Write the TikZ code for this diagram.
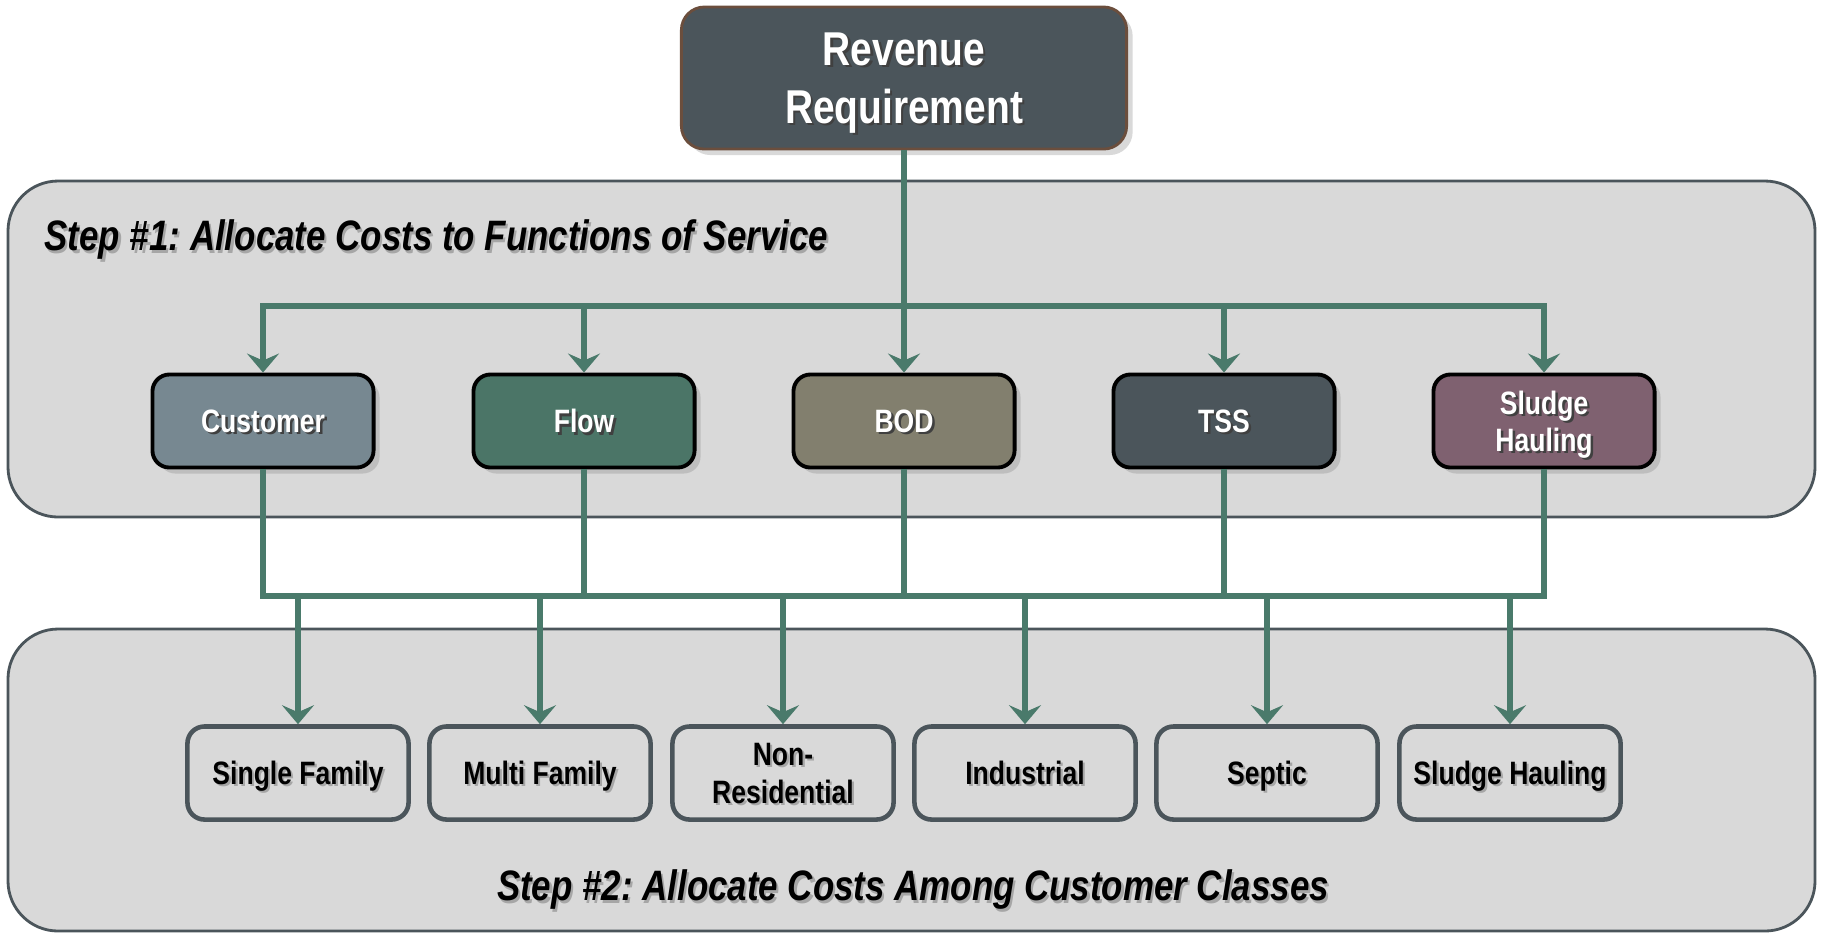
\documentclass[tikz,border=0pt]{standalone}
\usepackage{fontspec}
\setmainfont{Liberation Sans}[FakeStretch=0.82]
\usetikzlibrary{arrows.meta,shadows,positioning}
\frenchspacing

\definecolor{slate}{HTML}{4B555B}
\definecolor{panelgray}{HTML}{D9D9D9}
\definecolor{linkgreen}{HTML}{4A7A6B}
\definecolor{revline}{HTML}{6B4E3D}
\definecolor{custfill}{HTML}{778891}
\definecolor{flowfill}{HTML}{4B7567}
\definecolor{bodfill}{HTML}{827F6E}
\definecolor{tssfill}{HTML}{4B555B}
\definecolor{sludfill}{HTML}{7F6170}

% texte avec ombre portee
\newcommand{\shw}[1]{\makebox[0pt][l]{\hspace{0.7pt}\raisebox{-0.7pt}{\textcolor{black!75}{#1}}}#1}
\newcommand{\shk}[1]{\makebox[0pt][l]{\hspace{0.6pt}\raisebox{-0.6pt}{\textcolor{black!35}{#1}}}#1}

\tikzset{
  >={Stealth[length=0.19cm, width=0.32cm, inset=0.07cm]},
  panel/.style={draw=slate, line width=0.8pt, fill=panelgray, rounded corners=0.5cm},
  link/.style={draw=linkgreen, line width=1.7pt},
  boxshadow/.style={drop shadow={shadow xshift=0.06cm, shadow yshift=-0.06cm, opacity=0.3}},
  revbox/.style={boxshadow, draw=revline, line width=0.8pt, fill=slate, rounded corners=0.23cm,
    minimum width=4.45cm, minimum height=1.42cm, text=white, align=center, text depth=-6pt,
    font=\bfseries\fontsize{13.5}{16.5}\selectfont},
  funcbox/.style={boxshadow, draw=black, line width=1.1pt, rounded corners=0.17cm,
    minimum width=2.21cm, minimum height=0.93cm, text=white, align=center, text depth=-3.8pt,
    font=\bfseries\fontsize{9.2}{10.6}\selectfont},
  classbox/.style={draw=slate, line width=1.3pt, rounded corners=0.17cm,
    minimum width=2.21cm, minimum height=0.93cm, align=center, text depth=-3.8pt,
    font=\bfseries\fontsize{9.2}{10.8}\selectfont},
  steptext/.style={inner sep=0pt, font=\bfseries\itshape\fontsize{12.1}{14}\selectfont}
}

\begin{document}
\begin{tikzpicture}[x=0.01cm, y=-0.01cm]
  \useasboundingbox (0,0) rectangle (1822,932);

  % Les deux bandeaux
  \draw[panel] (8,181) rectangle (1815,517);
  \draw[panel] (8,629) rectangle (1815,931);

  \node[steptext, anchor=west] (step1) at (44,241) {\shk{Step \#1: Allocate Costs to Functions of Service}};
  \node[steptext] (step2) at (913,891) {\shk{Step \#2: Allocate Costs Among Customer Classes}};

  % Boite du haut
  \node[revbox] (rev) at (904,78) {\shw{Revenue}\\\shw{Requirement}};

  % Fonctions de service
  \foreach \x/\n/\c/\t in {263/cust/custfill/\shw{Customer}, 584/flow/flowfill/\shw{Flow},
      904/bod/bodfill/\shw{BOD}, 1224/tss/tssfill/\shw{TSS},
      1544/slud/sludfill/{\shw{Sludge}\\\shw{Hauling}}} {
    \node[funcbox, fill=\c] (\n) at (\x,421) {\t};
  }

  % Classes de clients
  \foreach \x/\n/\t in {298/sf/\shk{Single Family}, 540/mf/\shk{Multi Family},
      783/nr/{\shk{Non-}\\\shk{Residential}}, 1025/ind/\shk{Industrial},
      1267/sep/\shk{Septic}, 1510/sh/\shk{Sludge Hauling}} {
    \node[classbox] (\n) at (\x,773) {\t};
  }

  \coordinate (bus1) at (904,306);
  \coordinate (bus2) at (904,596);

  % Liaisons du haut
  \draw[link,->] (rev.south) -- (bod.north);
  \draw[link,<->] (cust.north) |- (slud.north |- bus1) -- (slud.north);
  \foreach \n in {flow,tss} {
    \draw[link,->] (\n.north |- bus1) -- (\n.north);
  }

  % Liaisons du bas
  \draw[link] (cust.south) |- (slud.south |- bus2) -- (slud.south);
  \foreach \n in {flow,bod,tss} {
    \draw[link] (\n.south) -- (\n.south |- bus2);
  }
  \foreach \n in {sf,mf,nr,ind,sep,sh} {
    \draw[link,->] (\n.north |- bus2) -- (\n.north);
  }
\end{tikzpicture}
\end{document}
